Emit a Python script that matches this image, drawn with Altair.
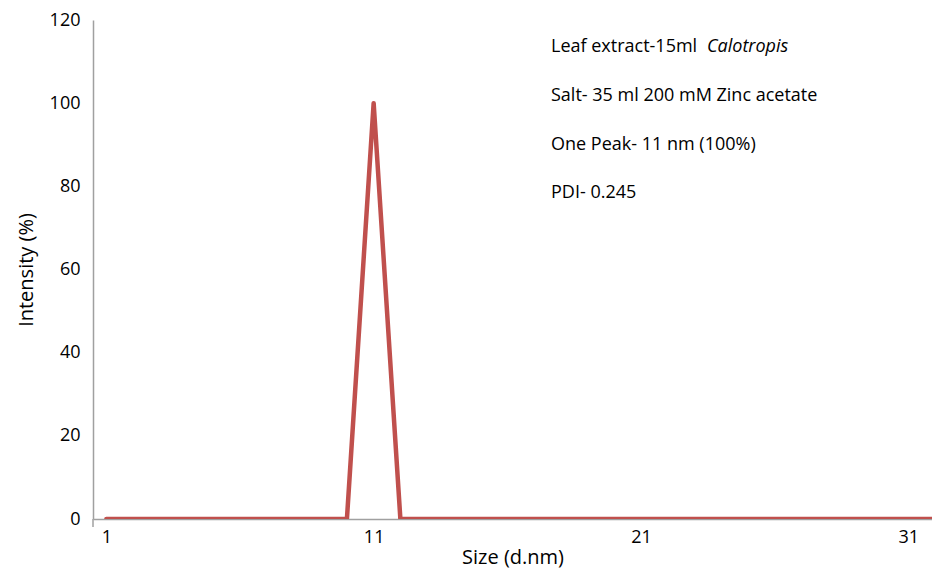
import altair as alt
import pandas as pd

# Size (d.nm) categories and intensity (%) values
sizes = list(range(1, 33))
intensity = [0, 0, 0, 0, 0, 0, 0, 0, 0, 0,
             100, 0, 0, 0, 0, 0, 0, 0, 0, 0,
             0, 0, 0, 0, 0, 0, 0, 0, 0, 0,
             0, 0]
x_ticks = [1, 11, 21, 31]
y_ticks = [0, 20, 40, 60, 80, 100, 120]

notes = ["Leaf extract-15ml ", "Salt- 35 ml 200 mM Zinc acetate",
         "One Peak- 11 nm (100%)", "PDI- 0.245"]
italic_note = "Calotropis"

df = pd.DataFrame({"size": sizes, "intensity": intensity})

FONT = "Open Sans"
W, H = 839, 499

line = alt.Chart(df).mark_line(
    color="#C0504D", strokeWidth=4.5, strokeJoin="round", strokeCap="round", clip=True
).encode(
    x=alt.X("size:Q", scale=alt.Scale(domain=[0.5, 31.89], nice=False, zero=False),
            axis=alt.Axis(values=x_ticks, title="Size (d.nm)", labelPadding=9,
                          titlePadding=1)),
    y=alt.Y("intensity:Q", scale=alt.Scale(domain=[0, 120], nice=False),
            axis=alt.Axis(values=y_ticks, title="Intensity (%)", labelPadding=13,
                          titlePadding=13)),
)

yext = alt.Chart(pd.DataFrame({"a": [0]})).mark_rule(color="#A0A0A0", strokeWidth=1.5).encode(
    x=alt.value(0), y=alt.value(H), y2=alt.value(H + 8)
)

text_layers = []
baselines = [32, 81, 130, 178]
for note, yb in zip(notes, baselines):
    text_layers.append(
        alt.Chart(pd.DataFrame({"t": [note]})).mark_text(
            align="left", baseline="alphabetic", font=FONT, fontSize=18, color="#000000"
        ).encode(x=alt.value(458), y=alt.value(yb), text="t:N")
    )
text_layers.append(
    alt.Chart(pd.DataFrame({"t": [italic_note]})).mark_text(
        align="left", baseline="alphabetic", font=FONT, fontSize=18, fontStyle="italic",
        color="#000000"
    ).encode(x=alt.value(614), y=alt.value(32), text="t:N")
)

chart = alt.layer(line, yext, *text_layers).properties(
    width=W, height=H,
    autosize=alt.AutoSizeParams(type="none"),
    padding={"left": 85, "top": 12, "right": 0, "bottom": 49},
).configure_view(stroke=None).configure_axis(
    grid=False, ticks=False, tickSize=0,
    domainColor="#A0A0A0", domainWidth=1.5,
    labelFont=FONT, labelFontSize=18, labelColor="#000000",
    titleFont=FONT, titleFontSize=20, titleFontWeight="normal", titleColor="#000000",
)

chart.save("out.html", embed_options={"renderer": "svg", "actions": False})
